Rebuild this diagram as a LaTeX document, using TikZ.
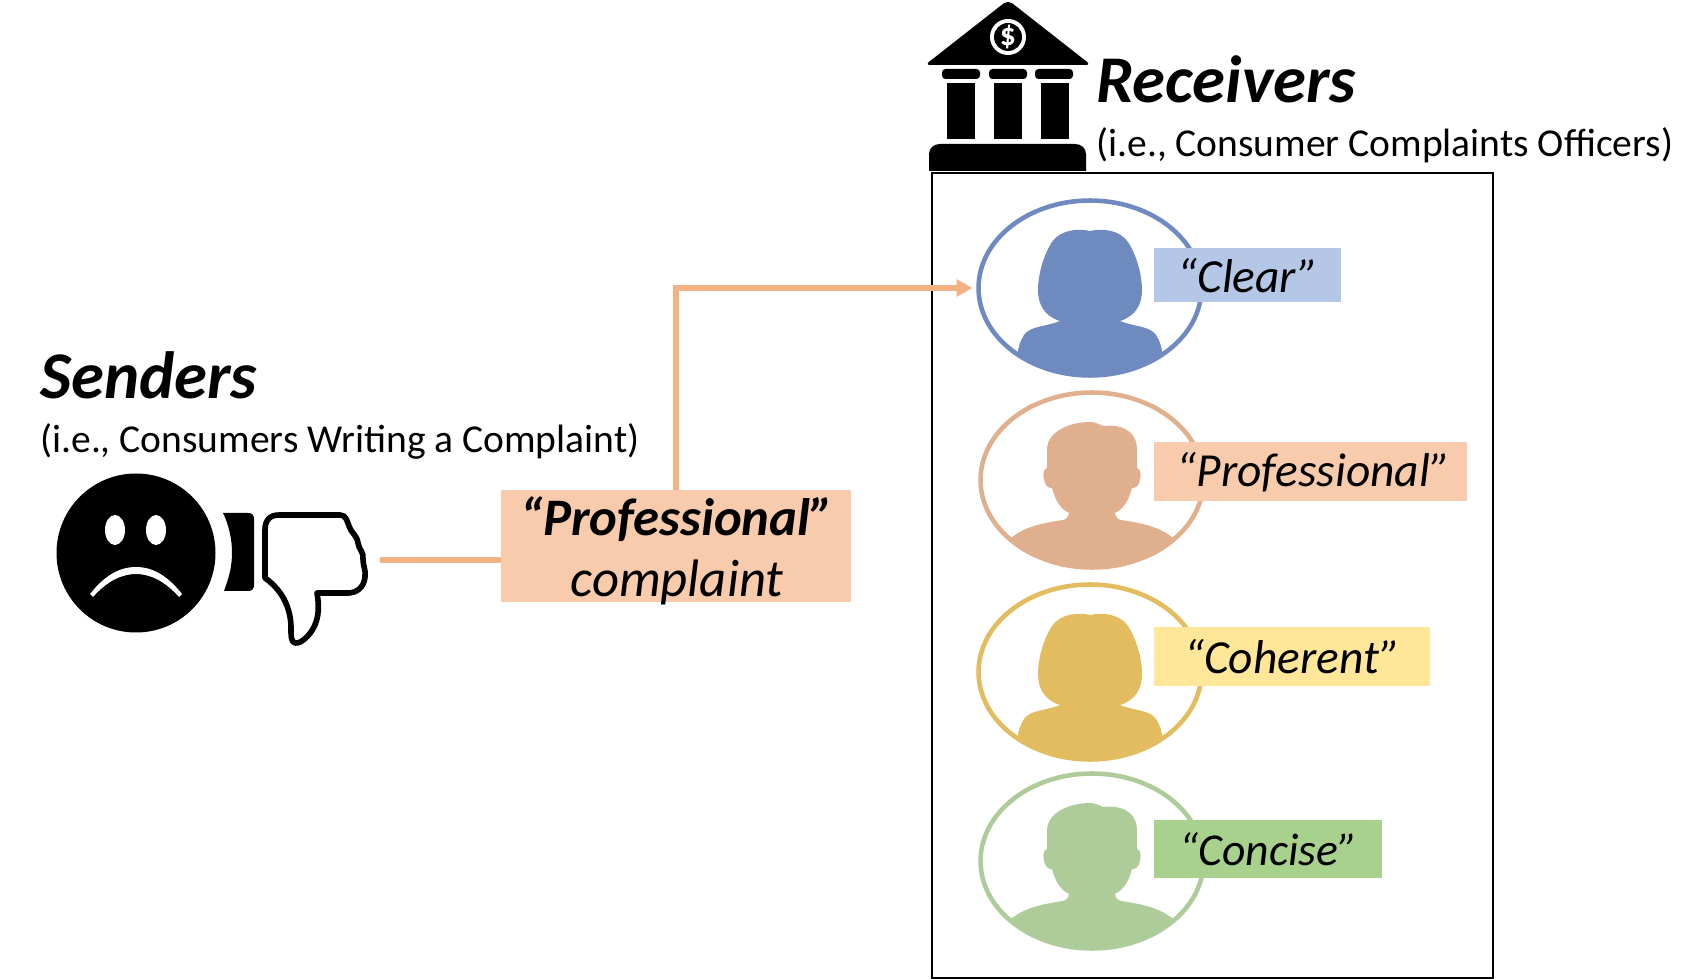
\documentclass[tikz,border=0pt]{standalone}
\usepackage{fontspec}
\setmainfont{Carlito}
\usepackage{xcolor}
\usetikzlibrary{shapes.geometric, arrows.meta, positioning, calc}
\definecolor{bluefig}{HTML}{6F8ABF}
\definecolor{bluetag}{HTML}{B4C7E7}
\definecolor{peachfig}{HTML}{E0AF8D}
\definecolor{peachtag}{HTML}{F8CBAD}
\definecolor{goldfig}{HTML}{E2BC5E}
\definecolor{goldtag}{HTML}{FFE699}
\definecolor{greenfig}{HTML}{AECB9A}
\definecolor{greentag}{HTML}{A9D18E}
\definecolor{linkline}{HTML}{F4B183}
\tikzset{
  ring/.style={ellipse, line width=2.6pt, outer sep=0pt, minimum width=4.46cm, minimum height=3.5cm, inner sep=0pt},
  tagbox/.style={font=\fontsize{27}{32}\selectfont\itshape, text=black, inner sep=0pt, minimum height=1.12cm},
  heading/.style={font=\fontsize{38}{44}\selectfont\bfseries\itshape, anchor=base west, inner sep=0pt},
  subheading/.style={font=\fontsize{22.5}{27}\selectfont, anchor=base west, inner sep=0pt},
  link/.style={linkline, line width=3.1pt}
}
% woman silhouette inside a ring
\newcommand{\womanfig}[3]{
  \node[ring, draw=#3] (#1) at (#2) {};
  \begin{scope}
    \clip (#2) ellipse (111.5 and 87.5);
    \fill[#3, shift={(#2)}] (0,-57) .. controls (12,-60) and (30,-58) .. (38,-46)
      .. controls (46,-34) and (52,-14) .. (52,2) .. controls (52,16) and (46,28) .. (30,33)
      .. controls (45,39) and (60,38) .. (66,47) .. controls (70,53) and (72,60) .. (73,70)
      -- (73,100) -- (-73,100) -- (-73,70)
      .. controls (-72,60) and (-70,53) .. (-66,47) .. controls (-60,38) and (-45,39) .. (-30,33)
      .. controls (-46,28) and (-52,16) .. (-52,2) .. controls (-52,-14) and (-46,-34) .. (-38,-46)
      .. controls (-30,-58) and (-12,-60) .. (0,-57) -- cycle;
  \end{scope}
}
% man silhouette inside a ring
\newcommand{\manfig}[3]{
  \node[ring, draw=#3] (#1) at (#2) {};
  \begin{scope}
    \clip (#2) ellipse (111.5 and 87.5);
    \fill[#3, shift={(#2)}] (-2,-58) .. controls (3,-58) and (7,-56) .. (11,-54)
      .. controls (25,-56) and (45,-52) .. (45,-30) -- (45,-12)
      .. controls (50,-11) and (49,-2) .. (47,3) .. controls (46,7) and (42,8) .. (40,8)
      .. controls (36,22) and (32,28) .. (23,33) .. controls (24,37) and (25,39) .. (29,40)
      .. controls (50,43) and (68,47) .. (81,58) -- (81,100) -- (-81,100) -- (-81,58)
      .. controls (-68,47) and (-50,43) .. (-29,40) .. controls (-25,39) and (-24,37) .. (-23,33)
      .. controls (-32,28) and (-36,22) .. (-40,8) .. controls (-42,8) and (-46,7) .. (-47,3)
      .. controls (-49,-2) and (-50,-11) .. (-45,-12) -- (-45,-30)
      .. controls (-45,-50) and (-20,-58) .. (-2,-58) -- cycle;
  \end{scope}
}
\begin{document}
\begin{tikzpicture}[x=0.02cm, y=-0.02cm]
    \useasboundingbox (0,0) rectangle (1698,979);
    % Bank
    \fill[black, rounded corners=3pt] (1008,0) -- (1091,65) -- (925,65) -- cycle;
    \fill[white] (1008,37) circle (18);
    \fill[black] (1008,37) circle (14);
    \node[font=\fontsize{18}{18}\selectfont\bfseries, text=white, inner sep=0pt] (dollar) at (1008,37) {\$};
    \foreach \capx in {942,989,1035} {
      \fill[black, rounded corners=2pt] (\capx,69) -- (\capx+38,69) -- (\capx+38,79) -- (\capx,79) -- cycle;
    }
    \foreach \colx in {947,994,1041} {
      \fill[black] (\colx,83) rectangle (\colx+28,139);
    }
    \fill[black] (929,171) -- (929,154) .. controls (929,148) and (934,144) .. (940,144)
      -- (1075,144) .. controls (1081,144) and (1086,148) .. (1086,154) -- (1086,171) -- cycle;
    % Receivers
    \node[heading] (receivers) at (1096,103) {Receivers};
    \node[subheading] (receiversub) at (1096,157) {(i.e., Consumer Complaints Officers)};
    \node[draw=black, line width=1.2pt, minimum width=11.22cm, minimum height=16.1cm, inner sep=0pt, outer sep=0pt, anchor=north west] (panel) at (932,173) {};
    % People
    \womanfig{clearring}{1090,288}{bluefig}
    \manfig{profring}{1092,480}{peachfig}
    \womanfig{cohring}{1090,672}{goldfig}
    \manfig{conring}{1092,861}{greenfig}
    % Tags
    \node[tagbox, fill=bluetag, minimum width=3.74cm, minimum height=1.08cm, anchor=north west] (cleartag) at (1154,248) {“Clear”};
    \node[tagbox, fill=peachtag, minimum width=6.26cm, minimum height=1.18cm, anchor=north west] (proftag) at (1154,442) {\hspace{3pt}“Professional”};
    \node[tagbox, fill=goldtag, minimum width=5.52cm, minimum height=1.18cm, anchor=north west] (cohtag) at (1154,627) {“Coherent”};
    \node[tagbox, fill=greentag, minimum width=4.56cm, minimum height=1.16cm, anchor=north west, font=\fontsize{26}{32}\selectfont\itshape] (contag) at (1154,820) {“Concise”};
    % Senders
    \node[heading] (senders) at (40,399) {Senders};
    \node[subheading] (sendersub) at (40,453) {(i.e., Consumers Writing a Complaint)};
    % Sad face
    \fill[black] (136,553) circle (79.5);
    \fill[white] (115,530) ellipse (10 and 15);
    \fill[white] (156,530) ellipse (10 and 15);
    \fill[white] (90,594) .. controls (105,575) and (120,567) .. (136,567)
      .. controls (152,567) and (167,575) .. (182,594) -- (179,597)
      .. controls (165,581) and (150,574) .. (136,574)
      .. controls (122,574) and (107,581) .. (93,597) -- cycle;
    % Thumb
    \fill[black] (223,513) -- (248,513) .. controls (252,513) and (254,515) .. (254,519)
      -- (254,585) .. controls (254,589) and (252,591) .. (248,591) -- (224,591)
      .. controls (230,575) and (232,565) .. (232,552) .. controls (232,540) and (229,525) .. (223,513) -- cycle;
    \draw[black, line width=3.2pt, line join=round] (265,578) -- (265,530)
      .. controls (265,520) and (270,515) .. (279,515) -- (340,515)
      .. controls (346,515) and (347,521) .. (349,526) .. controls (351,533) and (357,535) .. (358,543)
      .. controls (359,550) and (364,552) .. (363,559) .. controls (363,566) and (366,570) .. (365,577)
      .. controls (364,588) and (356,593) .. (348,593) -- (317,593)
      .. controls (320,610) and (318,622) .. (311,632) .. controls (306,639) and (299,644) .. (295,643)
      .. controls (291,642) and (291,636) .. (291,628) .. controls (291,612) and (285,592) .. (265,578) -- cycle;
    % Complaint
    \node[fill=peachtag, minimum width=7.0cm, minimum height=2.24cm, inner sep=0pt, outer sep=0pt, anchor=north west] (complaint) at (501,490) {};
    \node[align=center, inner sep=0pt, font=\fontsize{30}{35}\selectfont] (complainttext) at ($(complaint.center)+(1,5)$)
      {{\bfseries\itshape “Professional”}\\{\itshape complaint}};
    % Links
    \coordinate (thumbend) at (380,560);
    \draw[link] (thumbend) -- (thumbend -| complaint.west);
    \draw[link, -{Triangle[length=9pt, width=9.5pt]}, shorten >=3.5pt] (complaint.north) |- (clearring.west);
\end{tikzpicture}
\end{document}
